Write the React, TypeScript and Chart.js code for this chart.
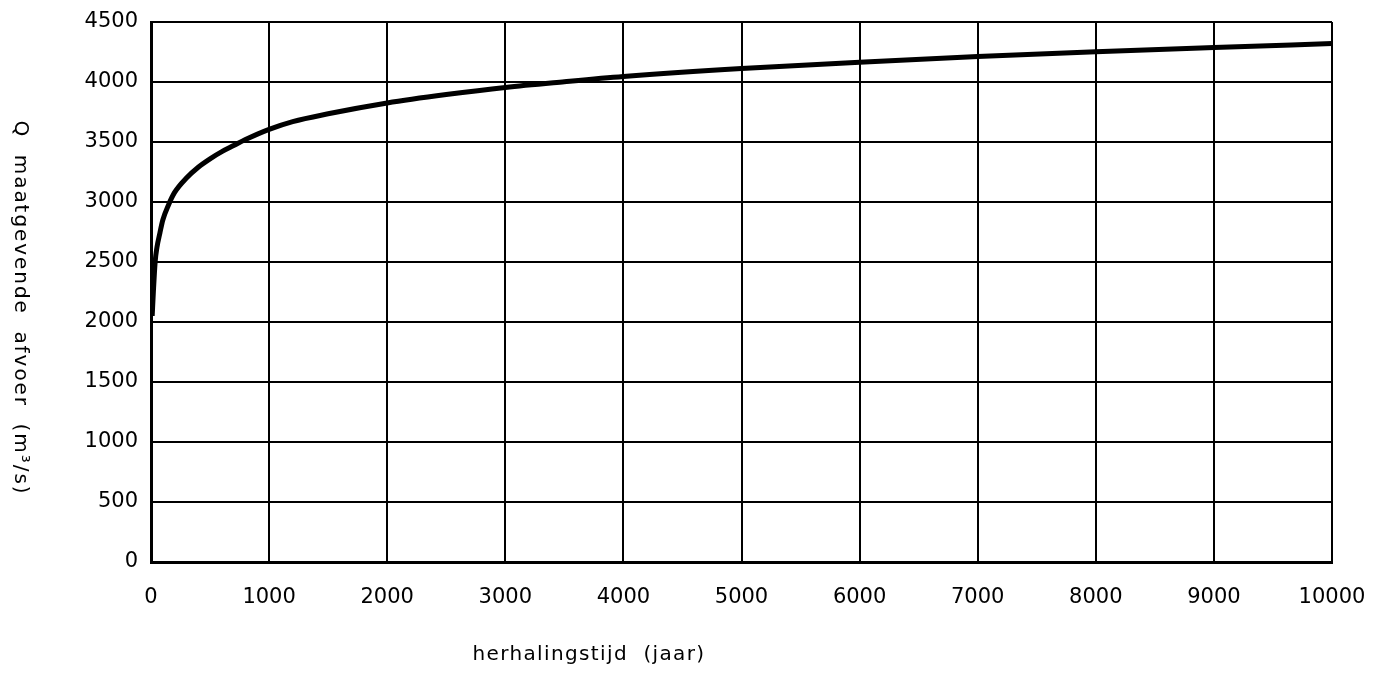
import React, { useEffect, useRef } from "react";
import { Chart, registerables } from "chart.js";

Chart.register(...registerables);

// herhalingstijd (jaar)
const returnPeriods = [10, 20, 35, 50, 75, 100, 150, 200, 300, 400, 500, 600, 700, 800, 1000, 1200, 1500, 2000, 2500, 3000, 3500, 4000, 5000, 6000, 7000, 8000, 9000, 10000];
// Q maatgevende afvoer (m3/s)
const discharge = [2050, 2250, 2500, 2620, 2740, 2850, 2980, 3080, 3200, 3290, 3360, 3420, 3470, 3520, 3605, 3670, 3735, 3825, 3895, 3955, 4002, 4045, 4112, 4165, 4212, 4252, 4287, 4320];

const xTitle = "herhalingstijd  (jaar)";
const yTitle = "Q  maatgevende  afvoer  (m³/s)";
const FONT = "'DejaVu Sans', sans-serif";

const titlesPlugin = {
  id: "customTitles",
  afterDraw(chart: any) {
    const ctx = chart.ctx;
    ctx.save();
    ctx.fillStyle = "#000";
    ctx.font = `20px ${FONT}`;
    ctx.textAlign = "center";
    ctx.textBaseline = "middle";
    // x title
    (ctx as any).letterSpacing = "0px";
    const wx = ctx.measureText(xTitle).width;
    (ctx as any).letterSpacing = `${Math.max(0, (233 - wx) / xTitle.length)}px`;
    ctx.fillText(xTitle, 589, 655);
    // y title, rotated reading top-to-bottom
    (ctx as any).letterSpacing = "0px";
    const wy = ctx.measureText(yTitle).width;
    (ctx as any).letterSpacing = `${Math.max(0, (375 - wy) / yTitle.length)}px`;
    ctx.translate(20, 308);
    ctx.rotate(Math.PI / 2);
    ctx.fillText(yTitle, 0, 0);
    ctx.restore();
  },
};

export default function App() {
  const ref = useRef<HTMLCanvasElement | null>(null);
  useEffect(() => {
    document.body.style.margin = "0";
    document.body.style.background = "#fff";
    if (!ref.current) return;
    const chart = new Chart(ref.current, {
      type: "scatter",
      data: {
        datasets: [
          {
            data: returnPeriods.map((x, i) => ({ x, y: discharge[i] })),
            showLine: true,
            borderColor: "#000",
            borderWidth: 5,
            pointRadius: 0,
            cubicInterpolationMode: "monotone",
          } as any,
        ],
      },
      options: {
        animation: false,
        responsive: false,
        maintainAspectRatio: false,
        layout: { padding: { top: 22, right: 45, left: 0, bottom: 0 } },
        plugins: { legend: { display: false }, tooltip: { enabled: false }, title: { display: false } },
        scales: {
          x: {
            type: "linear",
            min: 0,
            max: 10000,
            afterFit(scale: any) {
              scale.height = 112;
              scale.paddingLeft = 0;
              scale.paddingRight = 0;
            },
            ticks: {
              stepSize: 1000,
              padding: 23,
              color: "#000",
              font: { family: FONT, size: 21 },
              maxRotation: 0,
              autoSkip: false,
              callback: (v: any) => String(v),
            },
            grid: { color: "#000", lineWidth: 2, drawTicks: false },
            border: { color: "#000", width: 3 },
          },
          y: {
            type: "linear",
            min: 0,
            max: 4500,
            afterFit(scale: any) {
              scale.width = 151;
              scale.paddingTop = 0;
              scale.paddingBottom = 0;
            },
            ticks: {
              stepSize: 500,
              padding: 13,
              color: "#000",
              font: { family: FONT, size: 21 },
              callback: (v: any) => String(v),
            },
            grid: { color: "#000", lineWidth: 2, drawTicks: false },
            border: { color: "#000", width: 3 },
          },
        },
      },
      plugins: [titlesPlugin],
    });
    return () => chart.destroy();
  }, []);
  return (
    <div style={{ width: 1377, height: 674 }}>
      <canvas ref={ref} width={1377} height={674} style={{ display: "block", width: 1377, height: 674 }} />
    </div>
  );
}
